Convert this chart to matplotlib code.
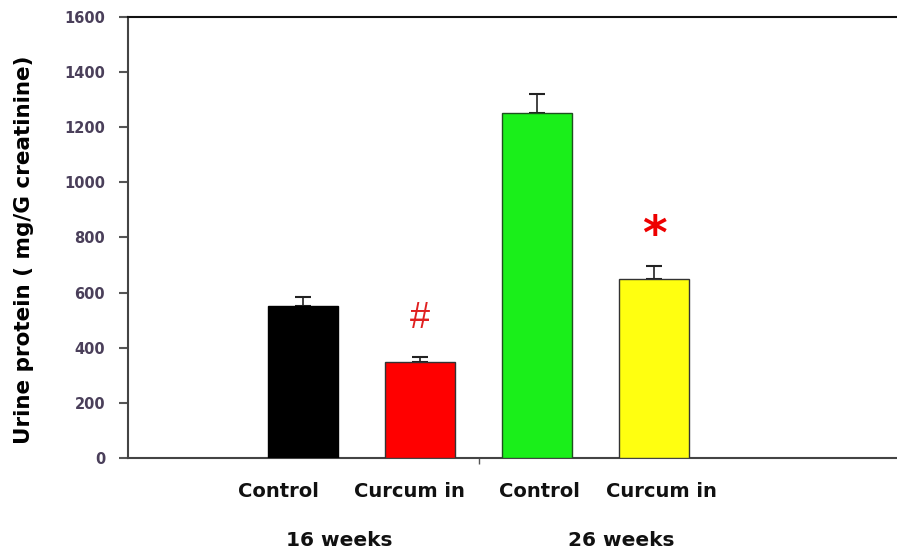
import matplotlib.pyplot as plt

# values
groups = ["16 weeks", "26 weeks"]
labels = ["Control", "Curcum in", "Control", "Curcum in"]
values = [550, 350, 1250, 650]
errors = [35, 15, 70, 45]
colors = ["#000000", "#ff0000", "#1aef1a", "#ffff10"]
edges = ["#000000", "#333333", "#1f4f1f", "#333333"]
marks = ["", "#", "", "*"]
yticks = [0, 200, 400, 600, 800, 1000, 1200, 1400, 1600]

plt.rcParams['font.family'] = ['DejaVu Sans']

fig = plt.figure(figsize=(8.97, 5.54), dpi=100)
ax = fig.add_axes([0.1427, 0.1733, 0.8573, 0.796])

pos = list(range(len(values)))
ax.bar(pos, values, width=0.6, color=colors, edgecolor=edges, linewidth=1.0, zorder=3)
ax.errorbar(pos, values, yerr=[[0] * len(errors), errors], fmt="none", ecolor="#222222",
            elinewidth=1.2, capsize=6, capthick=1.5, zorder=2)

# significance marks above the error bars
for p, v, e, m in zip(pos, values, errors, marks):
    if m == "#":
        ax.text(p, v + e + 140, m, color="#e02020", fontsize=26, family="Liberation Sans",
                ha="center", va="center")
    elif m == "*":
        ax.text(p, v + e + 108, m, color="#ee0000", fontsize=34, fontweight="bold",
                ha="center", va="center")

ax.set_xlim(-1.496, 5.077)
ax.set_ylim(0, 1600)
ax.set_yticks(yticks)
ax.set_yticklabels([str(t) for t in yticks], fontsize=10.5, fontweight="bold", color="#4a3f5a")
ax.tick_params(axis="y", direction="out", length=6.5, width=1.5, color="#555555", pad=10)

ax.set_xticks([1.5])
ax.set_xticklabels([""])
ax.tick_params(axis="x", direction="out", length=4, width=1, color="#555555")

# category labels sit slightly off the bar centres in the reference
label_shift = [-0.21, -0.09, 0.02, 0.06]
for p, s, lab in zip(pos, label_shift, labels):
    ax.text(p + s, -0.077, lab, transform=ax.get_xaxis_transform(), ha="center", va="center",
            fontsize=14, fontweight="bold", color="#111111")
group_x = [0.31, 2.72]
for gx, g in zip(group_x, groups):
    ax.text(gx, -0.186, g, transform=ax.get_xaxis_transform(), ha="center", va="center",
            fontsize=14.5, fontweight="bold", color="#111111")

ax.set_ylabel("Urine protein ( mg/G creatinine)", fontsize=15.5, fontweight="bold",
              va="center", ha="center")
ax.yaxis.set_label_coords(-0.135, 0.472)

for s in ["left", "bottom", "top"]:
    ax.spines[s].set_linewidth(1.5)
    ax.spines[s].set_color("#444444")
ax.spines["top"].set_color("#111111")
ax.spines["right"].set_visible(False)

fig.savefig("out.png", dpi=100)
